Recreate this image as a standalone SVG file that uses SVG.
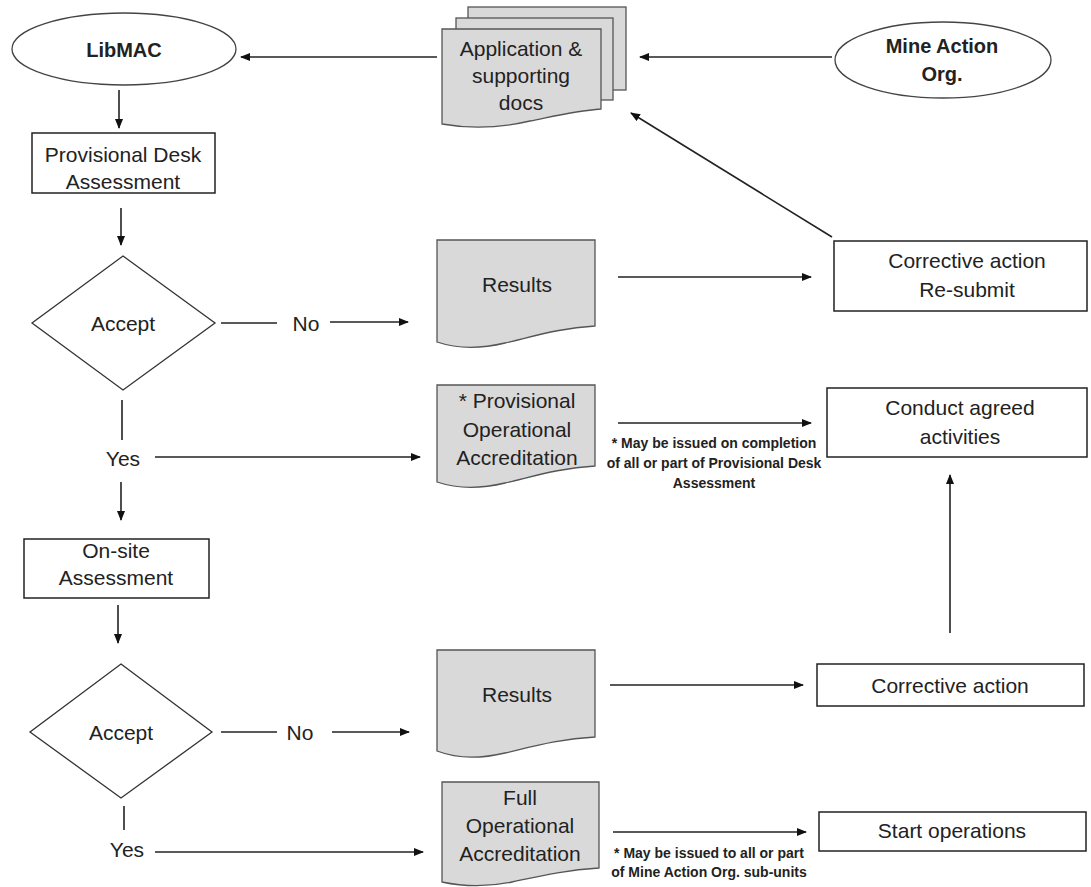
<svg xmlns="http://www.w3.org/2000/svg" width="1091" height="887" viewBox="0 0 1091 887">
<style>
text{font-family:"Liberation Sans",Arial,sans-serif;fill:#222;text-anchor:middle}
.t{font-size:21px}
.b{font-size:20px;font-weight:bold}
.n{font-size:14px;font-weight:bold}
.box{fill:#fff;stroke:#222;stroke-width:1.5}
.ell{fill:#fff;stroke:#444;stroke-width:1.3}
.doc{fill:#d9d9d9;stroke:#555;stroke-width:1.3}
.dia{fill:#fff;stroke:#333;stroke-width:1.3}
.c{stroke:#222;stroke-width:1.6;fill:none}
.a{marker-end:url(#ah)}
</style>
<defs>
<marker id="ah" viewBox="0 0 10 8" refX="9" refY="4" markerWidth="10" markerHeight="8" markerUnits="userSpaceOnUse" orient="auto">
<path d="M0,0 L10,4 L0,8 Z" fill="#111"/>
</marker>
</defs>
<rect width="1091" height="887" fill="#fff"/>
<g id="connectors">
<line class="c a" x1="437" y1="57" x2="241" y2="57"/>
<line class="c a" x1="832" y1="57" x2="640" y2="57"/>
<line class="c a" x1="119" y1="90" x2="119" y2="128"/>
<line class="c a" x1="121" y1="208" x2="121" y2="245"/>
<line class="c" x1="221" y1="323" x2="277" y2="323"/>
<line class="c a" x1="330" y1="322" x2="408" y2="322"/>
<line class="c" x1="122" y1="400" x2="122" y2="440"/>
<line class="c a" x1="155" y1="457" x2="420" y2="457"/>
<line class="c a" x1="121" y1="482" x2="121" y2="520"/>
<line class="c a" x1="118" y1="605" x2="118" y2="643"/>
<line class="c" x1="221" y1="732" x2="277" y2="732"/>
<line class="c a" x1="332" y1="732" x2="409" y2="732"/>
<line class="c" x1="124" y1="806" x2="124" y2="830"/>
<line class="c a" x1="155" y1="852" x2="423" y2="852"/>
<line class="c a" x1="618" y1="277" x2="811" y2="277"/>
<line class="c a" x1="618" y1="423" x2="811" y2="423"/>
<line class="c a" x1="610" y1="685" x2="803" y2="685"/>
<line class="c a" x1="613" y1="832" x2="806" y2="832"/>
<line class="c a" x1="950" y1="633" x2="950" y2="475"/>
<line class="c a" x1="832" y1="237" x2="631" y2="113"/>
</g>
<g id="libmac">
<ellipse class="ell" cx="124" cy="49" rx="112" ry="36"/>
<text class="b" x="124" y="57">LibMAC</text>
</g>
<g id="application-docs">
<rect class="doc" x="468" y="7" width="158" height="83"/>
<rect class="doc" x="456" y="18" width="157" height="82"/>
<path class="doc" d="M442,29 H601 V109 C575,111 555,116 530,121 C500,128 470,129 442,124 Z"/>
<text class="t" x="521" y="56">Application &amp;</text>
<text class="t" x="521" y="83">supporting</text>
<text class="t" x="521" y="110">docs</text>
</g>
<g id="mine-action-org">
<ellipse class="ell" cx="943" cy="60" rx="108" ry="38"/>
<text class="b" x="942" y="53">Mine Action</text>
<text class="b" x="942" y="81">Org.</text>
</g>
<g id="provisional-desk">
<rect class="box" x="32" y="133" width="183" height="60"/>
<text class="t" x="123" y="162">Provisional Desk</text>
<text class="t" x="123" y="189">Assessment</text>
</g>
<g id="accept-1">
<polygon class="dia" points="123,256 215,323 123,390 32,323"/>
<text class="t" x="123" y="331">Accept</text>
<text class="t" x="306" y="331">No</text>
<text class="t" x="123" y="466">Yes</text>
</g>
<g id="results-1">
<path class="doc" d="M437,240 H595 V326 C560,328 535,336 505,343 C480,349 458,349 437,342 Z"/>
<text class="t" x="517" y="292">Results</text>
</g>
<g id="corrective-resubmit">
<rect class="box" x="834" y="241" width="253" height="70"/>
<text class="t" x="967" y="268">Corrective action</text>
<text class="t" x="967" y="297">Re-submit</text>
</g>
<g id="provisional-accreditation">
<path class="doc" d="M437,385 H595 V466 C560,468 535,476 505,483 C480,489 458,489 437,482 Z"/>
<text class="t" x="517" y="408">* Provisional</text>
<text class="t" x="517" y="437">Operational</text>
<text class="t" x="517" y="465">Accreditation</text>
</g>
<g id="note-1">
<text class="n" x="714" y="448">* May be issued on completion</text>
<text class="n" x="714" y="468">of all or part of Provisional Desk</text>
<text class="n" x="714" y="488">Assessment</text>
</g>
<g id="conduct-activities">
<rect class="box" x="827" y="388" width="260" height="69"/>
<text class="t" x="960" y="415">Conduct agreed</text>
<text class="t" x="960" y="444">activities</text>
</g>
<g id="onsite-assessment">
<rect class="box" x="24" y="539" width="185" height="59"/>
<text class="t" x="116" y="558">On-site</text>
<text class="t" x="116" y="585">Assessment</text>
</g>
<g id="accept-2">
<polygon class="dia" points="121,664 212,732 121,798 30,732"/>
<text class="t" x="121" y="740">Accept</text>
<text class="t" x="300" y="740">No</text>
<text class="t" x="127" y="857">Yes</text>
</g>
<g id="results-2">
<path class="doc" d="M437,650 H595 V737 C560,739 535,746 505,753 C480,759 458,759 437,751 Z"/>
<text class="t" x="517" y="702">Results</text>
</g>
<g id="corrective-action">
<rect class="box" x="817" y="664" width="267" height="42"/>
<text class="t" x="950" y="693">Corrective action</text>
</g>
<g id="full-accreditation">
<path class="doc" d="M442,782 H599 V868 C565,870 540,876 512,882 C488,887 465,887 442,882 Z"/>
<text class="t" x="520" y="805">Full</text>
<text class="t" x="520" y="833">Operational</text>
<text class="t" x="520" y="861">Accreditation</text>
</g>
<g id="note-2">
<text class="n" x="709" y="858">* May be issued to all or part</text>
<text class="n" x="709" y="877">of Mine Action Org. sub-units</text>
</g>
<g id="start-operations">
<rect class="box" x="819" y="812" width="267" height="39"/>
<text class="t" x="952" y="838">Start operations</text>
</g>
</svg>
